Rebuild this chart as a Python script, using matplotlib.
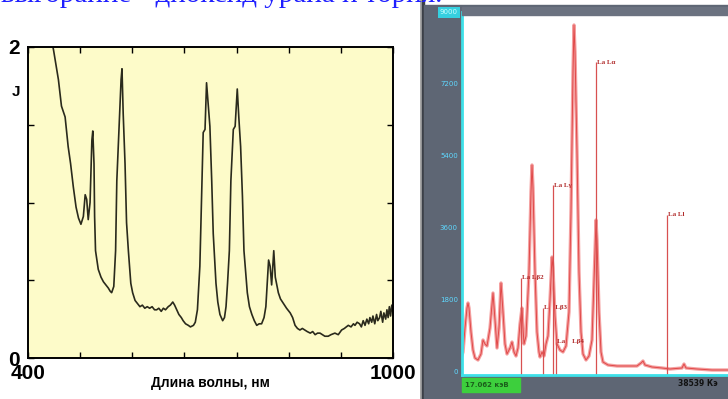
import numpy as np
import matplotlib.pyplot as plt
from matplotlib.patches import Rectangle

# left chart: absorption curve (wavelength nm, J)
curve_pts = [
    (436, 2.10), (442, 1.98), (450, 1.79), (455, 1.62), (461, 1.55), (466, 1.36),
    (470, 1.25), (474.5, 1.10), (479, 0.97), (483, 0.90), (487, 0.86), (491, 0.91),
    (494, 1.05), (496.5, 1.02), (499, 0.89), (502, 1.00), (505, 1.40), (506.5, 1.46),
    (508.5, 1.25), (509.5, 0.91), (511, 0.69), (515.5, 0.57), (520, 0.52), (524, 0.49),
    (528, 0.47), (532, 0.45), (535, 0.43), (537.5, 0.42), (541, 0.46), (544, 0.69),
    (546, 1.14), (550, 1.51), (553, 1.79), (554.5, 1.86), (556.5, 1.57), (559.5, 1.25),
    (562, 0.87), (565, 0.69), (569, 0.48), (572, 0.42), (576, 0.37), (580, 0.35),
    (584, 0.33), (588, 0.34), (592, 0.32), (596, 0.33), (600, 0.32), (604, 0.33),
    (608, 0.31), (611.5, 0.31), (615, 0.32), (619, 0.30), (622.5, 0.32), (626, 0.31),
    (630.5, 0.33), (634, 0.34), (638, 0.36), (641, 0.34), (644.5, 0.31), (648, 0.28),
    (652, 0.26), (655, 0.24), (659, 0.22), (663.5, 0.21), (667, 0.20), (672, 0.21),
    (675, 0.23), (678.5, 0.31), (682.5, 0.59), (684.5, 0.91), (686, 1.14), (688, 1.45),
    (691, 1.47), (693.5, 1.77), (696.5, 1.62), (699, 1.49), (702, 1.14), (704.5, 0.80),
    (709, 0.48), (712, 0.36), (715.5, 0.28), (720, 0.24), (723, 0.26), (725.5, 0.33),
    (728, 0.48), (731, 0.69), (733.5, 1.14), (737.5, 1.47), (740.5, 1.49), (744, 1.73),
    (746.5, 1.55), (749.5, 1.36), (752.5, 1.04), (755, 0.69), (760.5, 0.42), (764, 0.33),
    (768, 0.28), (772, 0.24), (776, 0.21), (780, 0.22), (784, 0.22), (788, 0.26),
    (791, 0.33), (795.5, 0.63), (798, 0.59), (800.5, 0.47), (804, 0.69), (806.5, 0.52),
    (811.5, 0.42), (815, 0.38), (820, 0.35), (825, 0.32), (831, 0.29), (835, 0.26),
    (839, 0.21), (843, 0.19), (847, 0.18), (851, 0.19), (855, 0.18), (859, 0.17),
    (864, 0.16), (868, 0.17), (872, 0.15), (876, 0.16), (880, 0.16), (884, 0.15),
    (888, 0.14), (893.5, 0.14), (898, 0.15), (904.5, 0.16), (910, 0.15), (915.5, 0.18),
    (920, 0.19), (926.5, 0.21), (931, 0.20), (935, 0.22), (937.5, 0.21), (941, 0.23),
    (945, 0.22), (948, 0.20), (951, 0.24), (954, 0.21), (957, 0.25), (960, 0.22),
    (962, 0.26), (965, 0.23), (967, 0.27), (970, 0.22), (973, 0.28), (975, 0.24),
    (978, 0.26), (980, 0.30), (983, 0.23), (985, 0.29), (988, 0.25), (990, 0.31),
    (992, 0.26), (994, 0.33), (996, 0.27), (998, 0.34), (1000, 0.29),
]
wl = [p[0] for p in curve_pts]
jv = [p[1] for p in curve_pts]
x_ticks = [400, 485.7, 571.4, 657.1, 742.9, 828.6, 914.3, 1000]
x_labels = ['400', '', '', '', '', '', '', '1000']
y_ticks = [0, 0.5, 1, 1.5, 2]
y_labels = ['0', '', '', '', '2']

# right chart: X-ray spectrum (channels, counts)
ch = [0, 1, 3, 5, 6, 7, 9, 11, 13, 16, 19, 21, 23, 25, 28, 31, 33, 35, 37, 39, 41, 43,
      45, 48, 50, 52, 54, 56, 58, 60, 61, 62, 64, 67, 69, 70, 71, 73, 75, 77, 78, 80,
      82, 84, 86, 88, 90, 91, 93, 95, 98, 101, 104, 107, 109, 111, 112, 113, 115, 117,
      119, 121, 124, 127, 130, 133, 134, 135, 137, 139, 141, 146, 155, 165, 175, 179,
      181, 183, 190, 200, 208, 220, 222, 224, 235, 250, 266]
counts = [420, 500, 1100, 1600, 1725, 1600, 1000, 550, 350, 300, 450, 800, 700, 650,
          1100, 1975, 1300, 600, 1100, 2225, 1500, 700, 450, 600, 750, 500, 400, 600,
          1200, 1600, 1100, 700, 900, 2500, 4500, 5175, 4600, 2500, 1000, 500, 375, 500,
          400, 700, 900, 1800, 2875, 2600, 1400, 700, 550, 500, 650, 1500, 4000, 7500,
          8675, 8000, 5500, 2500, 1000, 450, 300, 400, 800, 3000, 3800, 3300, 1500, 500,
          250, 175, 150, 150, 150, 225, 275, 175, 125, 100, 75, 100, 200, 100, 75, 50, 50]
line_ch = [134, 91, 205, 59, 81, 94]
line_top = [7750, 4675, 3925, 2350, 1600, 750]
line_names = ['La Lα', 'La Lγ', 'La Ll', 'La Lβ2', 'L    Lβ3', 'La    Lβ4']
count_ticks = [0, 1800, 3600, 5400, 7200, 9000]

W, H = 728, 399
fig = plt.figure(figsize=(W / 100, H / 100), dpi=100)
fig.patch.set_facecolor('white')

def box(x0, y0, x1, y1):
    # pixel box -> figure fraction
    return [x0 / W, 1 - y1 / H, (x1 - x0) / W, (y1 - y0) / H]

fig.text(442 / W, 1 - 2 / H, 'выгорание - диоксид урана и тория.', ha='right',
         va='baseline', color='#1f1fff', fontsize=21, family='Liberation Serif')

# ---- left chart
ax = fig.add_axes(box(28, 47, 393, 358))
ax.set_facecolor('#fdfbc9')
ax.plot(wl, jv, color='#2a2a1c', lw=1.2)
ax.set_xlim(400, 1000)
ax.set_ylim(0, 2)
ax.set_xticks(x_ticks, x_labels)
ax.set_yticks(y_ticks, y_labels)
ax.tick_params(direction='in', length=4, width=1, top=True, right=True,
               labelsize=15, pad=6)
ax.tick_params(axis='x', pad=4)
for t in ax.get_xticklabels() + ax.get_yticklabels():
    t.set_fontweight('bold')
    t.set_family('Liberation Sans')
for s in ax.spines.values():
    s.set_linewidth(1.4)
ax.set_xlabel('Длина волны, нм', fontsize=10, fontweight='bold',
              family='Liberation Sans', labelpad=-5)
fig.text(12 / W, 1 - 92 / H, 'J', fontsize=11, fontweight='bold',
         family='Liberation Sans', va='center')

# ---- right chart frame (pixel coords)
bg = fig.add_axes([420 / W, 0, 308 / W, 1])
bg.set_xlim(420, 728)
bg.set_ylim(399, 0)
bg.axis('off')
bg.add_patch(Rectangle((419, 0), 2, 399, color='#a8a8a8'))
bg.add_patch(Rectangle((422, 0), 2.5, 399, color='#3c4048'))
bg.add_patch(Rectangle((424.5, 5), 304, 394, color='#5e6674'))
bg.add_patch(Rectangle((462, 378), 58, 14, color='#3dcf3d'))
bg.text(465, 385, '17.062 кэВ', fontsize=5, color='#1b5e1b', va='center',
        fontweight='bold')
bg.text(678, 384, '38539 Кэ', fontsize=5.5, color='#111111', va='center',
        fontweight='bold', clip_on=True)

sp = fig.add_axes(box(462, 12, 728, 375))
sp.set_facecolor('white')
sp.plot(ch, counts, color='#f4a0a0', lw=2.4, solid_joinstyle='round')
sp.plot(ch, counts, color='#e04848', lw=0.7)
sp.vlines(line_ch, -75, line_top, color='#d85050', lw=0.9)
for c, top, name in zip(line_ch, line_top, line_names):
    sp.text(c + 1, top, name, fontsize=5, color='#b02a2a', va='center',
            family='Liberation Serif', fontweight='bold')
sp.set_xlim(0, 266)
sp.set_ylim(-75, 9000)
sp.set_xticks([])
sp.set_yticks(count_ticks, [str(v) for v in count_ticks])
sp.tick_params(axis='y', length=0, labelsize=5, labelcolor='#5fd8ff', pad=3)
for s in ['top', 'right']:
    sp.spines[s].set_visible(False)
for s in ['left', 'bottom']:
    sp.spines[s].set_color('#3ee0e8')
    sp.spines[s].set_linewidth(2)
sp.get_yticklabels()[-1].set_bbox(dict(facecolor='#35d0e0', edgecolor='none', pad=1.5))
sp.get_yticklabels()[-1].set_color('#c8ffff')

fig.add_artist(Rectangle((462 / W, 1 - 15 / H), 266 / W, 8 / H, color='#6b7280',
                         transform=fig.transFigure))

fig.savefig('out.png', dpi=100)
